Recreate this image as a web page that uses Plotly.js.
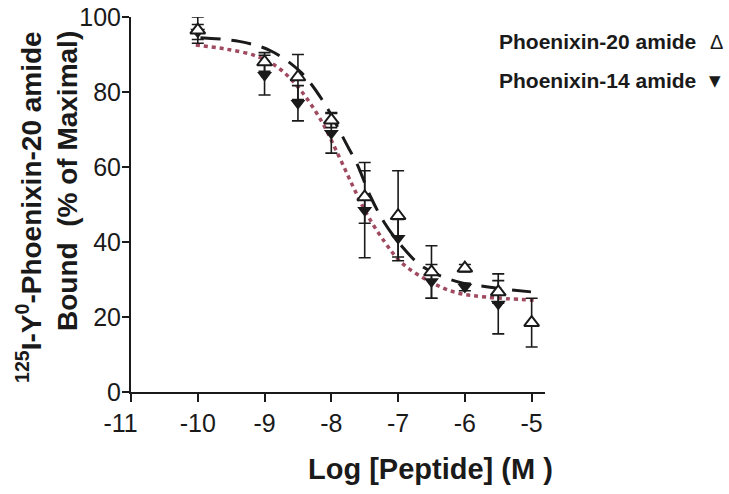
<!DOCTYPE html>
<html>
<head>
<meta charset="utf-8">
<script src="https://cdn.plot.ly/plotly-3.0.1.min.js"></script>
<style>html,body{margin:0;padding:0;background:#fff;}#chart{width:729px;height:494px;}</style>
</head>
<body>
<div id="chart"></div>
<script>
// Log concentration of peptide (M)
const logConc = [-10, -9, -8.5, -8, -7.5, -7, -6.5, -6, -5.5, -5];
// Phoenixin-20 amide (open triangles), % of maximal binding, with SEM
const pnx20 = [96.5, 88, 84, 72.5, 52, 47, 32, 33, 26.7, 18.5];
const pnx20Err = [3.5, 2.5, 6, 2, 7, 12, 7, 1, 3, 6.5];
// Phoenixin-14 amide (filled triangles)
const pnx14 = [96, 84.5, 77, 69, 48.5, 41, 29.5, 28, 23.5, null];
const pnx14Err = [2, 5.3, 4.7, 5.3, 12.7, 5, 4.5, 1, 8, null];

// Fitted curves
const fit20X = [-9.96, -9.38, -8.91, -8.47, -8.14, -7.74, -7.62, -7.41, -7.2, -6.95, -6.64, -6.13, -5.65, -5.01];
const fit20Y = [94.5, 93.5, 91, 85.5, 78, 65, 61, 52, 45, 39, 33.5, 29.5, 28, 26.7];
const fit14X = [-10.03, -9.6, -9.11, -8.76, -8.44, -8.14, -7.89, -7.68, -7.47, -7.2, -6.95, -6.53, -6.13, -5.67, -4.97];
const fit14Y = [92.5, 91.5, 89.5, 86, 80, 72, 63, 55, 47.5, 40, 34.5, 29.5, 26.5, 25.3, 24.5];

const xTicks = [-11, -10, -9, -8, -7, -6, -5];
const xTickText = ['-11\u00a0\u00a0\u00a0', '-10', '-9', '-8', '-7', '-6', '-5'];
const yTicks = [0, 20, 40, 60, 80, 100];

const ink = '#1a1a1a';
const font = 'Arial, "Liberation Sans", Helvetica, sans-serif';

const traces = [
  {x: fit14X, y: fit14Y, mode: 'lines', line: {color: '#a04a60', width: 3.5, dash: '4px,4px', shape: 'spline'}, hoverinfo: 'skip'},
  {x: fit20X, y: fit20Y, mode: 'lines', line: {color: ink, width: 3, dash: '20px,11px', shape: 'spline'}, hoverinfo: 'skip'},
  {x: logConc, y: pnx14, mode: 'markers', name: 'Phoenixin-14 amide',
   error_y: {type: 'data', array: pnx14Err, visible: true, color: ink, thickness: 1.6, width: 6},
   marker: {symbol: 'triangle-down', size: 13, color: ink, line: {width: 0}}},
  {x: logConc, y: pnx20, mode: 'markers', name: 'Phoenixin-20 amide',
   error_y: {type: 'data', array: pnx20Err, visible: true, color: ink, thickness: 1.6, width: 6},
   marker: {symbol: 'triangle-up', size: 13, color: '#ffffff', line: {width: 2, color: ink}}}
];

const L = 131, R = 184, T = 17, B = 102;
const pw = 729 - L - R, ph = 494 - T - B;
const px = v => (v - L) / pw;
const py = v => (494 - B - v) / ph;

const layout = {
  width: 729, height: 494,
  margin: {l: L, r: R, t: T, b: B},
  paper_bgcolor: '#fff', plot_bgcolor: '#fff',
  showlegend: false,
  font: {family: font, color: ink},
  xaxis: {
    range: [-11, -4.8], tickvals: xTicks, ticktext: xTickText,
    showgrid: false, zeroline: false, showline: true, linecolor: ink, linewidth: 2,
    ticks: 'outside', ticklen: 8, tickwidth: 2, tickcolor: ink,
    tickfont: {size: 25, family: font, color: ink}, ticklabelstandoff: 0
  },
  yaxis: {
    range: [0, 100], tickvals: yTicks,
    showgrid: false, zeroline: false, showline: true, linecolor: ink, linewidth: 2,
    ticks: 'outside', ticklen: 7, tickwidth: 2, tickcolor: ink,
    tickfont: {size: 25, family: font, color: ink}, ticklabelstandoff: -4
  },
  annotations: [
    {xref: 'paper', yref: 'paper', x: px(29), y: py(207), xanchor: 'center', yanchor: 'middle', textangle: -90, showarrow: false,
     text: '<b><sup>125</sup>I-Y<sup>0</sup>-Phoenixin-20 amide</b>', font: {size: 28, family: font, color: ink}},
    {xref: 'paper', yref: 'paper', x: px(67), y: py(181), xanchor: 'center', yanchor: 'middle', textangle: -90, showarrow: false,
     text: '<b>Bound  (% of Maximal)</b>', font: {size: 28, family: font, color: ink}},
    {xref: 'paper', yref: 'paper', x: px(430), y: py(469), xanchor: 'center', yanchor: 'middle', showarrow: false,
     text: '<b>Log [Peptide] (M )</b>', font: {size: 29, family: font, color: ink}},
    {xref: 'paper', yref: 'paper', x: px(497), y: py(41.5), xanchor: 'left', yanchor: 'middle', showarrow: false,
     text: '<b>Phoenixin-20 amide</b>', font: {size: 21, family: font, color: ink}},
    {xref: 'paper', yref: 'paper', x: px(497), y: py(80.5), xanchor: 'left', yanchor: 'middle', showarrow: false,
     text: '<b>Phoenixin-14 amide</b>', font: {size: 21, family: font, color: ink}},
    {xref: 'paper', yref: 'paper', x: px(716), y: py(41.5), xanchor: 'center', yanchor: 'middle', showarrow: false,
     text: 'Δ', font: {size: 20, family: font, color: ink}},
    {xref: 'paper', yref: 'paper', x: px(715), y: py(81), xanchor: 'center', yanchor: 'middle', showarrow: false,
     text: '▼', font: {size: 15, family: '"DejaVu Sans", sans-serif', color: ink}}
  ]
};

Plotly.newPlot('chart', traces, layout, {staticPlot: true, displayModeBar: false});
</script>
</body>
</html>
